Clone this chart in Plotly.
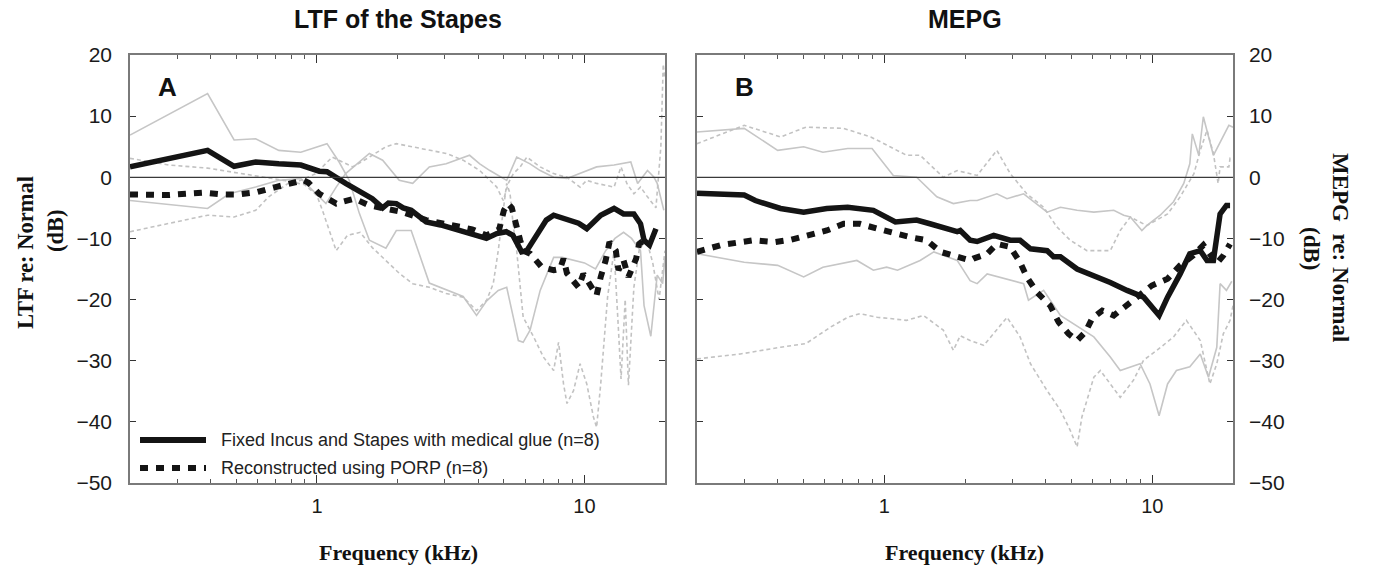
import math
import plotly.graph_objects as go

# ---------------- Panel A : LTF of the Stapes ----------------
a_fixed_f = [0.2, 0.39, 0.49, 0.59, 0.72, 0.87, 1.02, 1.09, 1.28, 1.45, 1.61, 1.76, 1.85, 1.98, 2.1, 2.25, 2.56, 2.9, 3.22, 3.6, 4.06, 4.3, 4.7, 5.1, 5.4, 5.58, 5.82, 6.09, 6.4, 6.65, 7.2, 7.67, 8.6, 9.5, 10.2, 11.5, 12.9, 14.0, 15.3, 16.2, 16.7, 17.5, 18.5]
a_fixed_v = [1.7, 4.4, 1.8, 2.5, 2.2, 2.0, 1.0, 0.9, -1.0, -2.5, -3.5, -5.0, -4.2, -4.3, -5.0, -5.4, -7.3, -7.8, -8.4, -9.0, -9.8, -10.0, -9.2, -8.9, -9.5, -10.9, -12.2, -12.0, -10.5, -9.2, -7.0, -6.2, -6.8, -7.5, -8.4, -6.2, -5.1, -6.0, -6.0, -7.6, -10.3, -11.1, -8.4]

a_porp_f = [0.2, 0.278, 0.376, 0.44, 0.51, 0.6, 0.7, 0.81, 0.89, 0.93, 1.02, 1.18, 1.38, 1.57, 1.81, 2.09, 2.56, 3.23, 3.8, 4.3, 4.8, 5.0, 5.18, 5.35, 5.5, 5.75, 5.9, 6.27, 6.93, 7.67, 8.1, 8.35, 8.6, 9.1, 9.5, 9.9, 10.4, 11.1, 11.5, 12.0, 12.4, 13.1, 13.4, 14.0, 14.6, 15.6, 16.0, 16.7]
a_porp_v = [-2.8, -2.9, -2.5, -2.8, -2.8, -2.4, -1.6, -0.8, -0.5, -0.9, -2.7, -4.3, -3.5, -4.6, -5.1, -5.7, -7.0, -7.8, -8.5, -9.5, -8.5, -5.4, -4.3, -5.0, -7.3, -10.3, -12.0, -12.5, -14.7, -15.2, -15.0, -13.3, -15.7, -16.9, -18.0, -15.8, -17.4, -19.3, -16.3, -13.6, -10.6, -12.0, -15.2, -13.6, -16.3, -13.3, -10.9, -10.3]

a_fixed_g1_f = [0.2, 0.39, 0.49, 0.59, 0.72, 0.87, 1.09, 1.21, 1.32, 1.44, 1.57, 1.81, 1.98, 2.25, 2.63, 3.04, 3.52, 3.95, 4.31, 4.76, 5.12, 5.42, 5.66, 5.9, 6.26, 6.83, 7.24, 7.67, 8.25, 9.0, 10.0, 11.0, 12.0, 13.0, 14.0, 15.0, 16.2, 16.7, 17.7, 18.7, 19.6, 20.0]
a_fixed_g1_v = [6.9, 13.7, 6.1, 6.3, 4.4, 4.1, 5.5, 2.5, -0.5, -5.9, -10.3, -11.6, -8.7, -8.7, -17.3, -18.4, -19.5, -22.6, -20.2, -18.5, -18.0, -22.9, -26.7, -27.0, -25.0, -18.5, -15.8, -13.1, -13.1, -13.5, -14.0, -15.0, -12.0, -10.0, -9.0, -10.0, -12.0, -21.0, -26.0, -16.0, -17.4, -13.0]

a_fixed_g2_f = [0.2, 0.39, 0.47, 0.59, 0.72, 0.87, 1.02, 1.08, 1.18, 1.28, 1.57, 1.76, 2.03, 2.28, 2.63, 3.04, 3.72, 4.06, 4.43, 5.12, 5.58, 6.26, 6.83, 7.67, 8.6, 9.63, 11.1, 12.9, 14.9, 15.8, 17.2, 18.2, 18.7, 19.8]
a_fixed_g2_v = [-3.8, -5.1, -2.7, -1.6, -0.5, -0.2, -3.2, -4.3, -1.6, 0.6, 3.9, 2.8, -0.5, -1.0, 1.7, 2.2, 3.6, 2.2, 1.1, -0.5, 3.3, 2.2, 1.1, 0.0, -0.2, 0.6, 1.7, 2.0, 2.5, -1.0, 1.1, 0.0, -1.0, -5.4]

a_porp_g1_f = [0.2, 0.28, 0.39, 0.49, 0.6, 0.75, 0.9, 1.0, 1.05, 1.18, 1.3, 1.45, 1.61, 2.03, 2.28, 2.63, 3.04, 3.52, 3.95, 4.31, 4.56, 4.76, 4.97, 5.12, 5.27, 5.42, 5.58, 5.9, 6.44, 7.02, 7.67, 8.0, 8.35, 8.6, 9.1, 9.63, 10.2, 10.8, 11.1, 11.5, 12.2, 12.9, 13.4, 13.7, 14.2, 14.6, 15.3, 16.0, 17.0, 18.0, 19.0, 20.0]
a_porp_g1_v = [3.1, 2.0, 1.5, 0.8, 0.2, -0.5, -1.2, -3.0, -5.5, -12.0, -9.5, -9.0, -11.5, -15.7, -17.4, -18.0, -19.0, -19.6, -21.8, -20.1, -17.4, -12.0, -5.4, -1.0, -2.7, -8.0, -12.0, -22.9, -26.0, -29.4, -31.6, -27.0, -33.8, -37.0, -34.9, -30.5, -33.8, -39.2, -40.9, -33.8, -19.6, -12.0, -25.0, -33.0, -20.0, -34.0, -18.0, -12.0, -10.0, -14.0, -20.0, -12.0]

a_porp_g2_f = [0.2, 0.28, 0.39, 0.49, 0.59, 0.66, 0.78, 0.87, 0.99, 1.14, 1.36, 1.57, 1.81, 1.98, 2.28, 2.63, 3.04, 3.52, 4.06, 4.43, 4.7, 4.97, 5.19, 5.42, 5.75, 6.09, 6.83, 7.67, 8.6, 9.63, 10.2, 11.1, 12.9, 13.7, 14.4, 15.3, 16.2, 17.2, 18.5, 19.3, 19.7, 20.0]
a_porp_g2_v = [-8.9, -7.6, -6.2, -6.5, -5.4, -3.2, -1.0, -0.5, 0.6, 3.3, 1.7, 3.3, 5.0, 5.5, 5.0, 4.4, 3.9, 2.8, 1.1, -0.5, -1.6, -3.8, -1.0, 0.6, 1.7, 3.3, 1.7, 0.6, 0.0, -1.6, -0.5, -1.0, -1.6, 1.7, -1.0, -2.7, -1.6, -3.2, -5.0, 5.0, 18.5, 16.0]

# ---------------- Panel B : MEPG ----------------
b_fixed_f = [0.2, 0.3, 0.33, 0.41, 0.5, 0.61, 0.73, 0.84, 0.91, 1.1, 1.32, 1.48, 1.87, 1.92, 2.09, 2.22, 2.56, 2.95, 3.21, 3.51, 4.05, 4.28, 4.54, 5.24, 6.05, 6.97, 8.05, 9.28, 10.6, 11.4, 12.7, 13.8, 15.1, 16.0, 16.9, 17.4, 17.9, 18.9, 19.5]
b_fixed_v = [-2.6, -2.9, -3.8, -5.1, -5.7, -5.1, -4.9, -5.1, -5.4, -7.3, -7.0, -7.6, -8.9, -8.7, -10.3, -10.5, -9.5, -10.3, -10.3, -11.7, -12.0, -13.0, -13.0, -15.0, -16.0, -17.2, -18.5, -19.6, -22.6, -19.6, -15.8, -12.5, -12.0, -13.6, -13.6, -9.2, -6.0, -4.6, -4.6]

b_porp_f = [0.2, 0.245, 0.325, 0.39, 0.45, 0.51, 0.61, 0.705, 0.81, 0.94, 1.08, 1.25, 1.44, 1.62, 1.87, 2.09, 2.15, 2.42, 2.63, 2.95, 3.21, 3.4, 3.71, 4.16, 4.47, 4.87, 5.24, 5.63, 5.96, 6.5, 7.18, 8.28, 9.96, 11.4, 12.7, 14.2, 15.5, 17.4, 18.4, 19.5]
b_porp_v = [-12.2, -11.1, -10.3, -10.6, -10.2, -9.5, -8.7, -7.6, -7.6, -8.4, -9.2, -9.8, -10.3, -12.2, -13.0, -13.6, -13.3, -12.5, -10.9, -11.4, -13.9, -16.3, -18.8, -21.0, -23.7, -25.6, -26.7, -25.3, -23.1, -21.8, -22.6, -20.4, -17.7, -16.6, -14.4, -12.8, -11.1, -14.1, -12.8, -10.9]

b_fixed_g1_f = [0.2, 0.3, 0.4, 0.5, 0.59, 0.73, 0.9, 1.08, 1.32, 1.57, 1.81, 2.09, 2.22, 2.63, 2.87, 3.31, 4.05, 4.54, 5.24, 6.05, 7.18, 7.82, 8.28, 9.14, 9.53, 10.7, 12.0, 13.1, 13.8, 14.1, 14.9, 15.5, 16.9, 19.3, 20.0]
b_fixed_g1_v = [7.4, 8.0, 4.4, 5.0, 4.1, 4.7, 4.7, 0.3, 0.0, -3.2, -4.3, -3.8, -3.8, -2.7, -3.5, -2.7, -5.7, -4.9, -5.4, -5.7, -5.4, -6.2, -6.5, -8.7, -7.9, -6.2, -4.0, -1.0, 2.2, 7.1, 3.6, 9.9, 3.6, 8.5, 8.2]

b_fixed_g2_f = [0.2, 0.3, 0.4, 0.5, 0.59, 0.79, 0.91, 1.02, 1.12, 1.36, 1.53, 1.87, 2.09, 2.22, 2.42, 3.31, 3.45, 3.93, 4.54, 6.05, 6.97, 7.59, 9.0, 9.8, 10.6, 11.4, 12.3, 13.8, 15.1, 16.2, 17.4, 17.9, 18.9, 19.8]
b_fixed_g2_v = [-12.5, -13.9, -14.4, -16.3, -14.7, -13.6, -15.2, -14.7, -15.2, -13.6, -12.2, -13.6, -16.9, -17.4, -15.8, -17.4, -20.1, -18.5, -22.6, -26.1, -29.4, -31.6, -30.5, -33.8, -39.0, -33.8, -31.6, -31.0, -28.9, -32.7, -27.8, -17.4, -18.5, -17.0]

b_porp_g1_f = [0.2, 0.3, 0.41, 0.51, 0.705, 0.89, 1.05, 1.21, 1.36, 1.66, 1.87, 2.09, 2.22, 2.63, 2.95, 3.4, 3.93, 4.4, 4.94, 5.7, 6.97, 7.59, 8.28, 9.53, 11.4, 12.7, 14.3, 15.1, 16.0, 16.9, 17.6, 17.9, 19.3, 19.5, 20.0]
b_porp_g1_v = [5.5, 8.5, 6.6, 8.2, 8.0, 6.6, 5.0, 3.6, 3.6, 0.0, 1.1, 0.6, 0.3, 4.4, 0.6, -2.7, -4.9, -8.1, -10.3, -12.0, -12.0, -8.7, -6.5, -7.9, -6.0, -3.2, 0.6, 4.4, 7.7, 3.9, -1.0, 1.7, 1.7, 3.1, 3.0]

b_porp_g2_f = [0.2, 0.29, 0.41, 0.51, 0.63, 0.73, 0.81, 0.94, 1.05, 1.21, 1.4, 1.66, 1.81, 1.92, 2.09, 2.35, 2.87, 3.21, 3.51, 4.05, 4.54, 4.94, 5.24, 5.46, 5.7, 6.05, 6.4, 7.59, 8.5, 9.28, 10.4, 12.0, 13.4, 15.1, 16.4, 17.4, 18.4, 19.5, 20.0]
b_porp_g2_v = [-29.7, -28.9, -27.8, -27.2, -24.5, -22.9, -22.3, -22.9, -23.1, -23.4, -22.6, -25.0, -28.3, -25.9, -26.7, -27.5, -22.9, -26.1, -30.5, -34.9, -38.1, -41.4, -44.1, -39.2, -36.5, -32.7, -31.6, -36.0, -33.2, -29.9, -28.3, -26.1, -23.4, -26.7, -33.8, -30.5, -25.6, -23.4, -21.0]

# ---------------- Text ----------------
titles = ["LTF of the Stapes", "MEPG"]
panel_letters = ["A", "B"]
x_title = "Frequency (kHz)"
legend_labels = ["Fixed Incus and Stapes with medical glue (n=8)", "Reconstructed using PORP (n=8)"]
y_ticks = [20, 10, 0, -10, -20, -30, -40, -50]
x_major = [1, 10]
x_minor = [0.2, 0.3, 0.4, 0.5, 0.6, 0.7, 0.8, 0.9, 2, 3, 4, 5, 6, 7, 8, 9, 20]

# ---------------- Styles ----------------
W, H = 1374, 580
SANS = "Liberation Sans, Arial, Helvetica, sans-serif"
SERIF = "Liberation Serif, Times New Roman, serif"
BLACK = "#141414"
GRAY_SOLID = "#c6c6c6"
GRAY_DASH = "#c2c2c2"
DOT = "8px,8px"

def px(x):
    return x / W

def py(y):
    return 1 - y / H

fig = go.Figure()

def add(f, v, xa, ya, color, width, dash):
    fig.add_trace(go.Scatter(x=f, y=v, xaxis=xa, yaxis=ya, mode="lines",
                             line=dict(color=color, width=width, dash=dash),
                             showlegend=False, hoverinfo="skip"))

# gray spread lines first
add(a_fixed_g1_f, a_fixed_g1_v, "x", "y", GRAY_SOLID, 1.6, "solid")
add(a_fixed_g2_f, a_fixed_g2_v, "x", "y", GRAY_SOLID, 1.6, "solid")
add(a_porp_g1_f, a_porp_g1_v, "x", "y", GRAY_DASH, 1.6, "4px,3px")
add(a_porp_g2_f, a_porp_g2_v, "x", "y", GRAY_DASH, 1.6, "4px,3px")
add(b_fixed_g1_f, b_fixed_g1_v, "x2", "y2", GRAY_SOLID, 1.6, "solid")
add(b_fixed_g2_f, b_fixed_g2_v, "x2", "y2", GRAY_SOLID, 1.6, "solid")
add(b_porp_g1_f, b_porp_g1_v, "x2", "y2", GRAY_DASH, 1.6, "4px,3px")
add(b_porp_g2_f, b_porp_g2_v, "x2", "y2", GRAY_DASH, 1.6, "4px,3px")

# zero reference lines
for xr_, yr_ in (("x", "y"), ("x2", "y2")):
    fig.add_shape(type="line", xref=f"{xr_} domain", yref=yr_, x0=0, x1=1, y0=0, y1=0,
                  line=dict(color="#3a3a3a", width=1.2), layer="above")

# means
add(a_fixed_f, a_fixed_v, "x", "y", BLACK, 5.5, "solid")
add(a_porp_f, a_porp_v, "x", "y", BLACK, 6, DOT)
add(b_fixed_f, b_fixed_v, "x2", "y2", BLACK, 5.5, "solid")
add(b_porp_f, b_porp_v, "x2", "y2", BLACK, 6, DOT)

xr = [math.log10(0.2), math.log10(20)]
ydom = [py(483), py(55)]

def xaxis(dom, anchor):
    return dict(domain=dom, anchor=anchor, type="log", range=xr, automargin=False,
                tickmode="array", tickvals=x_major, ticktext=[str(v) for v in x_major],
                ticks="inside", ticklen=8, tickwidth=1.2, tickcolor="#333",
                minor=dict(tickmode="array", tickvals=x_minor, ticks="inside", ticklen=4,
                           tickwidth=1, tickcolor="#555"),
                showline=True, linecolor="#7a7a7a", linewidth=1.5, mirror="ticks",
                showgrid=False, zeroline=False, ticklabelstandoff=4,
                tickfont=dict(family=SANS, size=20, color="#1a1a1a"))

def yaxis(anchor, side, standoff):
    return dict(domain=ydom, anchor=anchor, side=side, range=[-50, 20], automargin=False,
                tickmode="array", tickvals=y_ticks,
                ticks="inside", ticklen=6, tickwidth=1.2, tickcolor="#333",
                showline=True, linecolor="#7a7a7a", linewidth=1.5, mirror="ticks",
                showgrid=False, zeroline=False, ticklabelstandoff=standoff,
                tickfont=dict(family=SANS, size=21, color="#1a1a1a"))

fig.update_layout(
    width=W, height=H, margin=dict(l=0, r=0, t=0, b=0, pad=0, autoexpand=False),
    paper_bgcolor="white", plot_bgcolor="white",
    xaxis=xaxis([px(130), px(665)], "y"),
    yaxis=yaxis("x", "left", 12),
    xaxis2=xaxis([px(697), px(1233)], "y2"),
    yaxis2=yaxis("x2", "right", 10),
    showlegend=False,
)

ann = []
def text(x, y, s, font, size, bold=False, angle=0, xanchor="center", color="#111"):
    ann.append(dict(x=px(x), y=py(y), xref="paper", yref="paper", text=(f"<b>{s}</b>" if bold else s),
                    showarrow=False, xanchor=xanchor, yanchor="middle", textangle=angle,
                    font=dict(family=font, size=size, color=color)))

text(398, 19, titles[0], SANS, 25, bold=True)
text(965, 19, titles[1], SANS, 25, bold=True)
text(167, 87, panel_letters[0], SANS, 26, bold=True)
text(744, 87, panel_letters[1], SANS, 26, bold=True)
text(398, 552, x_title, SERIF, 22, bold=True)
text(965, 552, x_title, SERIF, 22, bold=True)
text(26, 253, "LTF re: Normal", SERIF, 22.5, bold=True, angle=-90)
text(56, 231, "(dB)", SERIF, 22.5, bold=True, angle=-90)
text(1341, 247, "MEPG\u00a0 re: Normal", SERIF, 23, bold=True, angle=90)
text(1311, 248, "(dB)", SERIF, 23, bold=True, angle=90)
text(219, 440, legend_labels[0], SANS, 18, xanchor="left", color="#222")
text(219, 468, legend_labels[1], SANS, 18, xanchor="left", color="#222")
fig.update_layout(annotations=ann)

# legend samples
fig.add_shape(type="line", xref="paper", yref="paper", x0=px(140), x1=px(206), y0=py(440), y1=py(440),
              line=dict(color=BLACK, width=6))
fig.add_shape(type="line", xref="paper", yref="paper", x0=px(140), x1=px(206), y0=py(468), y1=py(468),
              line=dict(color=BLACK, width=6, dash=DOT))

fig.write_html("out.html")
